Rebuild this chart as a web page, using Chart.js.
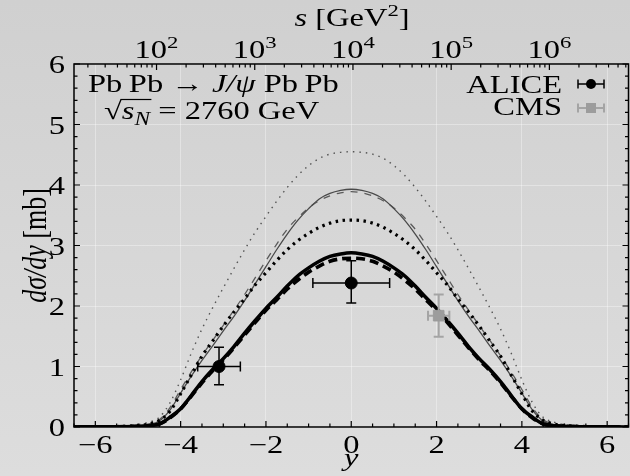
<!DOCTYPE html>
<html>
<head>
<meta charset="utf-8">
<script src="https://cdn.jsdelivr.net/npm/chart.js@4.4.1/dist/chart.umd.min.js"></script>
<style>
  html, body { margin: 0; padding: 0; background: #d6d6d6; }
  canvas { display: block; }
</style>
</head>
<body>
<canvas id="myChart" width="630" height="476"></canvas>
<script>
// rapidity grid of the theory curves
const rap = [-6.5,-6,-5.5,-5,-4.75,-4.5,-4.25,-4,-3.75,-3.5,-3.25,-3,-2.75,-2.5,-2.25,-2,-1.75,-1.5,-1.25,-1,-0.75,-0.5,-0.25,0,
             0.25,0.5,0.75,1,1.25,1.5,1.75,2,2.25,2.5,2.75,3,3.25,3.5,3.75,4,4.25,4.5,4.75,5,5.5,6,6.5];

// dsigma/dy [mb]
const thickSolid  = [0.001,0.002,0.004,0.012,0.022,0.05,0.16,0.30,0.52,0.75,0.95,1.13,1.33,1.55,1.76,1.96,2.14,2.33,2.50,2.63,2.74,2.82,2.86,2.88,
                     2.86,2.82,2.74,2.63,2.50,2.33,2.14,1.96,1.76,1.55,1.33,1.13,0.95,0.75,0.52,0.30,0.16,0.05,0.022,0.012,0.004,0.002,0.001];
const thickDashed = [0.001,0.002,0.004,0.012,0.022,0.05,0.15,0.30,0.51,0.73,0.93,1.11,1.31,1.52,1.73,1.93,2.10,2.28,2.43,2.56,2.66,2.74,2.78,2.79,
                     2.78,2.74,2.66,2.56,2.43,2.28,2.10,1.93,1.73,1.52,1.31,1.11,0.93,0.73,0.51,0.30,0.15,0.05,0.022,0.012,0.004,0.002,0.001];
const thickDotted = [0.001,0.003,0.008,0.025,0.05,0.11,0.26,0.55,0.86,1.17,1.42,1.67,1.90,2.12,2.35,2.55,2.75,2.93,3.08,3.20,3.30,3.37,3.41,3.42,
                     3.41,3.37,3.30,3.20,3.08,2.93,2.75,2.55,2.35,2.12,1.90,1.67,1.42,1.17,0.86,0.55,0.26,0.11,0.05,0.025,0.008,0.003,0.001];
const thinSolid   = [0.001,0.002,0.006,0.02,0.04,0.10,0.28,0.56,0.84,1.10,1.34,1.59,1.83,2.09,2.37,2.65,2.93,3.19,3.42,3.61,3.77,3.86,3.91,3.93,
                     3.91,3.86,3.77,3.61,3.42,3.19,2.93,2.65,2.37,2.09,1.83,1.59,1.34,1.10,0.84,0.56,0.28,0.10,0.04,0.02,0.006,0.002,0.001];
const thinDashed  = [0.001,0.003,0.008,0.025,0.05,0.12,0.32,0.62,0.91,1.18,1.43,1.68,1.93,2.19,2.47,2.75,3.02,3.27,3.46,3.62,3.74,3.82,3.87,3.89,
                     3.87,3.82,3.74,3.62,3.46,3.27,3.02,2.75,2.47,2.19,1.93,1.68,1.43,1.18,0.91,0.62,0.32,0.12,0.05,0.025,0.008,0.003,0.001];
const thinDotted  = [0.001,0.004,0.012,0.04,0.08,0.16,0.40,0.78,1.22,1.62,1.97,2.30,2.62,2.93,3.22,3.48,3.73,3.96,4.16,4.32,4.44,4.51,4.54,4.55,
                     4.54,4.51,4.44,4.32,4.16,3.96,3.73,3.48,3.22,2.93,2.62,2.30,1.97,1.62,1.22,0.78,0.40,0.16,0.08,0.04,0.012,0.004,0.001];

// measurements
const aliceRap = [-3.1, 0];
const aliceVal = [1.00, 2.38];
const aliceRapLo = [-3.6, -0.9];
const aliceRapHi = [-2.6, 0.9];
const aliceValLo = [0.70, 2.05];
const aliceValHi = [1.32, 2.75];

const cmsRap = [2.05];
const cmsVal = [1.84];
const cmsRapLo = [1.8];
const cmsRapHi = [2.3];
const cmsValLo = [1.49];
const cmsValHi = [2.19];

// axes
const xTicks = [-6, -4, -2, 0, 2, 4, 6];
const yTicks = [0, 1, 2, 3, 4, 5, 6];
const sExponents = [2, 3, 4, 5, 6];
const rapAtS1e4 = 0.04;          // rapidity where s = 10^4 GeV^2 on the top axis

const FONT = '"Liberation Serif", "DejaVu Serif", serif';
const SX = 1.3;                  // the reference is stretched sideways
const SIZE = 25;

function sAt(y) { return 1e4 * Math.exp(y - rapAtS1e4); }

function put(ctx, runs, x, y, opt, extra) {
  opt = opt || {};
  const sz = opt.size || SIZE;
  ctx.save();
  ctx.translate(x, y);
  if (opt.rot) { ctx.rotate(-Math.PI / 2); ctx.scale(1, SX); } else { ctx.scale(SX, 1); }
  ctx.fillStyle = '#000';
  ctx.textBaseline = 'alphabetic';
  ctx.textAlign = 'left';
  const fnt = r => (r.it ? 'italic ' : '') + (sz * (r.sc || 1)) + 'px ' + FONT;
  let w = 0;
  runs.forEach(r => { ctx.font = fnt(r); r.w = ctx.measureText(r.t).width; w += r.w; });
  let cx = opt.align === 'center' ? -w / 2 : opt.align === 'right' ? -w : 0;
  const pos = [];
  runs.forEach(r => {
    ctx.font = fnt(r);
    ctx.fillText(r.t, cx, (r.dy || 0) * sz);
    pos.push([cx, cx + r.w]);
    cx += r.w;
  });
  if (extra) extra(ctx, pos, sz);
  ctx.restore();
}

function errBar(ctx, px, py, x0, x1, y0, y1, cap) {
  ctx.beginPath();
  ctx.moveTo(x0, py); ctx.lineTo(x1, py);
  ctx.moveTo(x0, py - cap); ctx.lineTo(x0, py + cap);
  ctx.moveTo(x1, py - cap); ctx.lineTo(x1, py + cap);
  if (y0 !== null) {
    ctx.moveTo(px, y0); ctx.lineTo(px, y1);
    ctx.moveTo(px - cap, y0); ctx.lineTo(px + cap, y0);
    ctx.moveTo(px - cap, y1); ctx.lineTo(px + cap, y1);
  }
  ctx.stroke();
}

const background = {
  id: 'background',
  beforeDraw(chart) {
    const ctx = chart.ctx;
    const g = ctx.createLinearGradient(0, 0, 0, chart.height);
    g.addColorStop(0, '#d0d0d0');
    g.addColorStop(1, '#dddddd');
    ctx.save();
    ctx.fillStyle = g;
    ctx.fillRect(0, 0, chart.width, chart.height);
    ctx.restore();
  }
};

const errorBars = {
  id: 'errorBars',
  beforeDatasetDraw(chart, args) {
    const ds = chart.data.datasets[args.index];
    if (!ds.err) return;
    const xs = chart.scales.x, ys = chart.scales.y, ctx = chart.ctx;
    ctx.save();
    ctx.strokeStyle = ds.err.color;
    ctx.lineWidth = ds.err.width;
    ds.data.forEach((p, i) => {
      errBar(ctx, xs.getPixelForValue(p.x), ys.getPixelForValue(p.y),
        xs.getPixelForValue(ds.err.xlo[i]), xs.getPixelForValue(ds.err.xhi[i]),
        ys.getPixelForValue(ds.err.ylo[i]), ys.getPixelForValue(ds.err.yhi[i]), ds.err.cap);
    });
    ctx.restore();
  }
};

const frame = {
  id: 'frame',
  afterDraw(chart) {
    const ctx = chart.ctx, a = chart.chartArea;
    const xs = chart.scales.x, ys = chart.scales.y, ss = chart.scales.s;
    ctx.save();
    ctx.strokeStyle = '#000';
    ctx.lineWidth = 1.5;
    ctx.strokeRect(a.left, a.top, a.right - a.left, a.bottom - a.top);
    ctx.lineWidth = 1.2;
    ctx.beginPath();
    // rapidity ticks, bottom
    for (let v = -6.5; v <= 6.5001; v += 0.5) {
      const px = xs.getPixelForValue(v);
      const len = xTicks.includes(v) ? 6 : 3.5;
      ctx.moveTo(px, a.bottom); ctx.lineTo(px, a.bottom - len);
    }
    // cross-section ticks, left and right
    for (let v = 0; v <= 6.0001; v += 0.2) {
      const py = ys.getPixelForValue(v);
      const len = Math.abs(v - Math.round(v)) < 1e-6 ? 6 : 3.5;
      ctx.moveTo(a.left, py); ctx.lineTo(a.left + len, py);
      ctx.moveTo(a.right, py); ctx.lineTo(a.right - len, py);
    }
    // s ticks, top
    for (let e = 1; e <= 7; e++) {
      for (let k = 1; k <= 9; k++) {
        const v = k * Math.pow(10, e);
        if (v < ss.min || v > ss.max) continue;
        const px = ss.getPixelForValue(v);
        const len = k === 1 ? 6 : 3.5;
        ctx.moveTo(px, a.top); ctx.lineTo(px, a.top + len);
      }
    }
    ctx.stroke();

    // tick labels
    xTicks.forEach(v => {
      put(ctx, [{ t: (v < 0 ? '\u2212' : '') + Math.abs(v) }], xs.getPixelForValue(v), 453, { align: 'center' });
    });
    yTicks.forEach(v => {
      put(ctx, [{ t: String(v) }], 65, ys.getPixelForValue(v) + 9, { align: 'right' });
    });
    sExponents.forEach(n => {
      put(ctx, [{ t: '10' }, { t: String(n), sc: 0.7, dy: -0.42 }], ss.getPixelForValue(Math.pow(10, n)), 58, { align: 'center' });
    });

    // axis titles
    put(ctx, [{ t: 'y', it: true }], xs.getPixelForValue(0), 466, { align: 'center' });
    put(ctx, [{ t: 's', it: true }, { t: ' [GeV' }, { t: '2', sc: 0.7, dy: -0.42 }, { t: ']' }], 352, 26, { align: 'center' });
    put(ctx, [{ t: 'd\u03c3/dy', it: true }, { t: ' [mb]' }], 46, (a.top + a.bottom) / 2, { align: 'center', rot: true, size: 26 });

    // process label
    put(ctx, [{ t: 'Pb\u2009Pb \u2192 ' }, { t: 'J/\u03c8', it: true }, { t: ' Pb\u2009Pb' }], 88, 92);
    put(ctx, [{ t: '\u221a' }, { t: 's', it: true }, { t: 'N', it: true, sc: 0.72, dy: 0.22 }, { t: ' = 2760 GeV' }], 104, 119, {},
      (c, pos, sz) => {
        c.strokeStyle = '#000';
        c.lineWidth = 1.2;
        c.beginPath();
        c.moveTo(pos[0][1] - 1, -0.78 * sz);
        c.lineTo(pos[2][1] + 1, -0.78 * sz);
        c.stroke();
      });

    // legend
    put(ctx, [{ t: 'ALICE' }], 562, 93, { align: 'right' });
    put(ctx, [{ t: 'CMS' }], 562, 115, { align: 'right' });
    ctx.lineWidth = 1.5;
    ctx.strokeStyle = '#000';
    errBar(ctx, 591, 84, 578, 604, null, null, 4.5);
    ctx.fillStyle = '#000';
    ctx.beginPath(); ctx.arc(591, 84, 5, 0, Math.PI * 2); ctx.fill();
    ctx.strokeStyle = '#a4a4a4';
    ctx.lineWidth = 2;
    errBar(ctx, 591, 108, 578, 604, null, null, 4.5);
    ctx.fillStyle = '#9c9c9c';
    ctx.fillRect(586, 103, 10, 10);
    ctx.restore();
  }
};

function curve(values, color, width, dash, order) {
  return {
    data: rap.map((x, i) => ({ x: x, y: values[i] })),
    showLine: true,
    borderColor: color,
    borderWidth: width,
    borderDash: dash,
    borderCapStyle: 'butt',
    cubicInterpolationMode: 'monotone',
    pointRadius: 0,
    order: order
  };
}

new Chart(document.getElementById('myChart'), {
  type: 'scatter',
  data: {
    datasets: [
      {
        data: aliceRap.map((x, i) => ({ x: x, y: aliceVal[i] })),
        backgroundColor: '#000', borderColor: '#000',
        pointRadius: 6, pointStyle: 'circle', order: 0,
        err: { xlo: aliceRapLo, xhi: aliceRapHi, ylo: aliceValLo, yhi: aliceValHi, color: '#000', width: 1.5, cap: 5 }
      },
      {
        data: cmsRap.map((x, i) => ({ x: x, y: cmsVal[i] })),
        backgroundColor: '#9c9c9c', borderColor: '#9c9c9c',
        pointRadius: 7.5, pointStyle: 'rect', order: 0,
        err: { xlo: cmsRapLo, xhi: cmsRapHi, ylo: cmsValLo, yhi: cmsValHi, color: '#a4a4a4', width: 2, cap: 5 }
      },
      curve(thickSolid, '#000', 3.6, [], 1),
      curve(thickDashed, '#000', 3.6, [9, 5], 2),
      curve(thickDotted, '#000', 3.2, [2.5, 4.5], 3),
      curve(thinSolid, '#4a4a4a', 1.3, [], 4),
      curve(thinDashed, '#5a5a5a', 1.3, [7, 7], 5),
      curve(thinDotted, '#555', 1.4, [1.5, 5], 6)
    ]
  },
  options: {
    responsive: false,
    animation: false,
    devicePixelRatio: 1,
    layout: { autoPadding: false, padding: { left: 0, right: 1.5, top: 0, bottom: 0 } },
    plugins: { legend: { display: false }, tooltip: { enabled: false } },
    scales: {
      x: {
        type: 'linear', position: 'bottom', min: -6.5, max: 6.5,
        afterBuildTicks: s => { s.ticks = xTicks.map(v => ({ value: v })); },
        afterFit: s => { s.height = 49; },
        ticks: { display: false },
        grid: { color: 'rgba(255,255,255,0.35)', lineWidth: 1, drawTicks: false },
        border: { display: false }
      },
      s: {
        type: 'logarithmic', position: 'top', min: sAt(-6.5), max: sAt(6.5),
        afterFit: s => { s.height = 64; },
        ticks: { display: false },
        grid: { display: false, drawTicks: false },
        border: { display: false }
      },
      y: {
        type: 'linear', position: 'left', min: 0, max: 6,
        afterBuildTicks: s => { s.ticks = yTicks.map(v => ({ value: v })); },
        afterFit: s => { s.width = 74; },
        ticks: { display: false },
        grid: { color: 'rgba(255,255,255,0.35)', lineWidth: 1, drawTicks: false },
        border: { display: false }
      }
    }
  },
  plugins: [background, errorBars, frame]
});
</script>
</body>
</html>
